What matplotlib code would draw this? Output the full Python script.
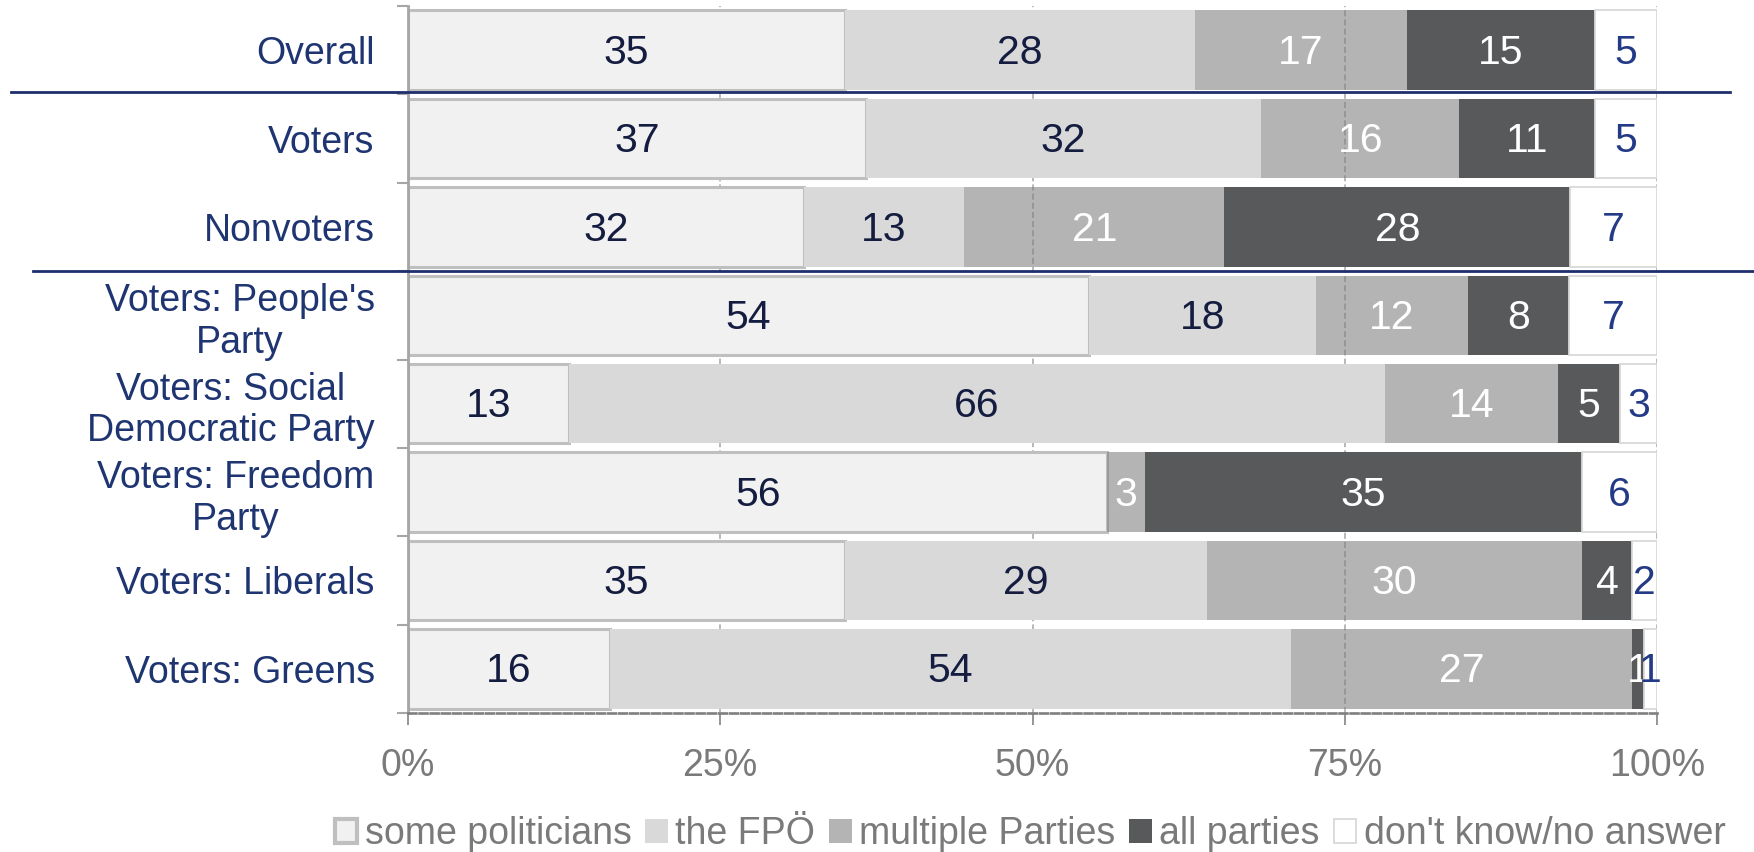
import matplotlib
matplotlib.use("Agg")
import matplotlib.pyplot as plt
from matplotlib.patches import Patch
from matplotlib.lines import Line2D
from matplotlib.transforms import blended_transform_factory
import numpy as np

plt.rcParams["font.family"] = ["Liberation Sans", "DejaVu Sans"]

categories = ["Overall", "Voters", "Nonvoters", "Voters: People's\nParty",
              "Voters: Social\nDemocratic Party", "Voters: Freedom\nParty",
              "Voters: Liberals", "Voters: Greens"]
series_names = ["some politicians", "the FPÖ", "multiple Parties", "all parties",
                "don't know/no answer"]
some_politicians = [35, 37, 32, 54, 13, 56, 35, 16]
the_fpo = [28, 32, 13, 18, 66, 0, 29, 54]
multiple_parties = [17, 16, 21, 12, 14, 3, 30, 27]
all_parties = [15, 11, 28, 8, 5, 35, 4, 1]
dont_know = [5, 5, 7, 7, 3, 6, 2, 1]
xticks = [0, 25, 50, 75, 100]
xticklabels = ["0%", "25%", "50%", "75%", "100%"]

NAVY = "#1f3572"
DARK = "#141c3f"
GRAY_TXT = "#7a7a7a"

data = np.array([some_politicians, the_fpo, multiple_parties, all_parties, dont_know], float)
# rounded shares -> stretch each row to the full 100%
shares = data / data.sum(axis=0) * 100

fills = ["#f1f1f1", "#d9d9d9", (0.5, 0.5, 0.5, 0.59), "#58595b", "white"]
edges = ["#bfbfbf", "none", "none", "none", "#d9d9d9"]
lws = [2.2, 0, 0, 0, 1.3]
txt_colors = [DARK, DARK, "white", "white", "#233a86"]

fig = plt.figure(figsize=(17.54, 8.52), dpi=100)
ax = fig.add_axes([408 / 1754, 1 - 713 / 852, 1249 / 1754, 707 / 852])

y = np.arange(len(categories))
left = np.zeros(len(categories))
for k in range(5):
    ax.barh(y, shares[k], left=left, height=0.9, color=fills[k],
            edgecolor=edges[k], linewidth=lws[k], zorder=2)
    for i in range(len(categories)):
        if data[k, i] > 0:
            ax.text(left[i] + shares[k, i] / 2, i + 0.03, "%d" % data[k, i],
                    ha="center", va="center", fontsize=29.5, color=txt_colors[k], zorder=4)
    left += shares[k]

ax.set_xlim(0, 100)
ax.set_ylim(len(categories) - 0.5, -0.5)

ax.set_xticks(xticks)
ax.set_xticklabels(xticklabels)
ax.tick_params(axis="x", length=8.5, width=1.3, color="#8c8c8c", pad=17,
               labelsize=27, labelcolor=GRAY_TXT)

ax.set_yticks(np.arange(len(categories) + 1) - 0.5)
ax.set_yticklabels([])
ax.tick_params(axis="y", which="major", length=8, width=1.5, color="#a6a6a6")
ax.set_yticks(y, minor=True)
ax.set_yticklabels(categories, minor=True)
ax.tick_params(axis="y", which="minor", length=0, pad=24, labelsize=27, labelcolor=NAVY)
for t in ax.get_yticklabels(minor=True):
    t.set_multialignment("center")

ax.xaxis.grid(True, color="#a6a6a6", linestyle=(0, (4, 2)), linewidth=1.1, zorder=0)
ax.set_axisbelow(True)

for s in ["top", "right"]:
    ax.spines[s].set_visible(False)
ax.spines["left"].set_color("#a6a6a6")
ax.spines["left"].set_linewidth(2.0)
ax.spines["bottom"].set_color("#7f7f7f")
ax.spines["bottom"].set_linewidth(1.9)
ax.spines["bottom"].set_linestyle((0, (3, 1.2)))
ax.spines["bottom"].set_zorder(3)

# group separators
tr = blended_transform_factory(fig.transFigure, ax.transData)
fig.add_artist(Line2D([11 / 1754, 1730 / 1754], [0.47, 0.47], transform=tr,
                      color="#1f2f6e", linewidth=2.0, zorder=5))
fig.add_artist(Line2D([33 / 1754, 1.0], [2.5, 2.5], transform=tr,
                      color="#1f2f6e", linewidth=2.0, zorder=5))

handles = []
for k in range(5):
    fc = fills[k] if k != 2 else "#b4b4b4"
    handles.append(Patch(facecolor=fc, edgecolor=edges[k],
                         linewidth=[3.0, 0, 0, 0, 1.3][k]))
fig.legend(handles, series_names, loc="center", bbox_to_anchor=(1030 / 1754, 0.021),
           ncol=5, frameon=False, fontsize=27, labelcolor=GRAY_TXT,
           handlelength=0.6, handleheight=0.6, handletextpad=0.2,
           columnspacing=0.37, borderpad=0, borderaxespad=0)

fig.savefig("out.png", dpi=100)
